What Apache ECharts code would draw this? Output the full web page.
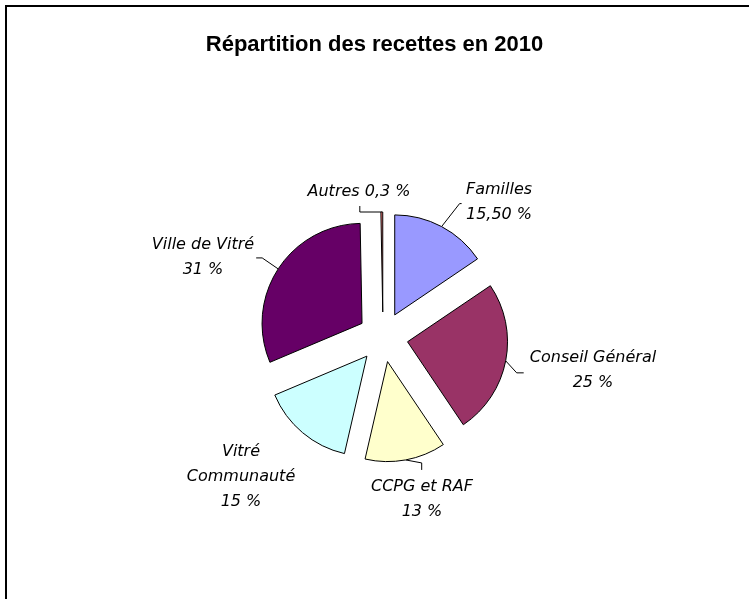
<!DOCTYPE html>
<html>
<head>
<meta charset="utf-8">
<script src="https://cdn.jsdelivr.net/npm/echarts@6/dist/echarts.min.js"></script>
<style>
  html, body { margin: 0; padding: 0; background: #fff; }
  #chart { width: 749px; height: 599px; }
</style>
</head>
<body>
<div id="chart"></div>
<script>
// données
var categories = ['Familles', 'Conseil Général', 'CCPG et RAF', 'Vitré Communauté', 'Ville de Vitré', 'Autres'];
var labelNames = ['Familles', 'Conseil Général', 'CCPG et RAF', 'Vitré\nCommunauté', 'Ville de Vitré', 'Autres'];
var valeurs = [15.5, 25, 13, 15, 31, 0.3];
var pctLabels = ['15,50 %', '25 %', '13 %', '15 %', '31 %', '0,3 %'];
var couleurs = ['#9999FF', '#993366', '#FFFFCC', '#CCFFFF', '#660066', '#FF8080'];

// centre des étiquettes (position seulement)
var posEtiquettes = [[499, 202], [593, 370], [422, 499], [241, 477], [203, 257], [359, 192]];
// traits de rappel : coude puis fin, relatifs au bord de la part (null = pas de trait)
var rappels = [
    [[18, -23], [20, -23]],
    [[11, 12], [18, 12]],
    [[16, 3], [16, 10]],
    null,
    [[-16, -11], [-22, -11]],
    [[-22, 0], [-22, -6]]
];

var CX = 383, CY = 337, RAYON = 100, ECART = 25;

var chart = echarts.init(document.getElementById('chart'));

var total = valeurs.reduce(function (a, b) { return a + b; }, 0);

// une série par part : la part visible est décalée le long de sa bissectrice (effet "éclaté")
var cumul = 0;
var series = valeurs.map(function (v, i) {
    var milieu = (cumul + v / 2) / total * 2 * Math.PI;
    cumul += v;
    var cx = CX + ECART * Math.sin(milieu);
    var cy = CY - ECART * Math.cos(milieu);
    var bord = [cx + RAYON * Math.sin(milieu), cy - RAYON * Math.cos(milieu)];
    return {
        type: 'pie',
        center: [cx, cy],
        radius: RAYON,
        startAngle: 90,
        clockwise: true,
        silent: true,
        avoidLabelOverlap: false,
        label: {
            position: 'outside',
            fontFamily: 'DejaVu Sans',
            fontStyle: 'italic',
            fontSize: 16,
            lineHeight: 25,
            color: '#000'
        },
        labelLine: {
            lineStyle: { color: '#000', width: 1 }
        },
        labelLayout: function () {
            var res = {
                x: posEtiquettes[i][0],
                y: posEtiquettes[i][1],
                align: 'center',
                verticalAlign: 'middle'
            };
            var r = rappels[i];
            if (r) {
                res.labelLinePoints = [
                    bord,
                    [bord[0] + r[0][0], bord[1] + r[0][1]],
                    [bord[0] + r[1][0], bord[1] + r[1][1]]
                ];
            }
            return res;
        },
        data: valeurs.map(function (w, j) {
            var visible = j === i;
            return {
                name: categories[j],
                value: w,
                itemStyle: visible
                    ? { color: couleurs[j], borderColor: '#000', borderWidth: 1 }
                    : { color: 'rgba(0,0,0,0)', borderWidth: 0 },
                label: {
                    show: visible,
                    formatter: j === 5 ? labelNames[j] + ' ' + pctLabels[j] : labelNames[j] + '\n' + pctLabels[j]
                },
                labelLine: { show: visible && j !== 3 }
            };
        })
    };
});

var option = {
    animation: false,
    title: {
        text: 'Répartition des recettes en 2010',
        left: 'center',
        top: 29,
        textStyle: {
            fontFamily: 'Liberation Sans',
            fontWeight: 'bold',
            fontSize: 22,
            color: '#000'
        }
    },
    graphic: [{
        type: 'polyline',
        shape: { points: [[6, 599], [6, 6], [749, 6]] },
        style: { stroke: '#000', lineWidth: 2, fill: null }
    }],
    series: series
};

chart.setOption(option);
</script>
</body>
</html>
